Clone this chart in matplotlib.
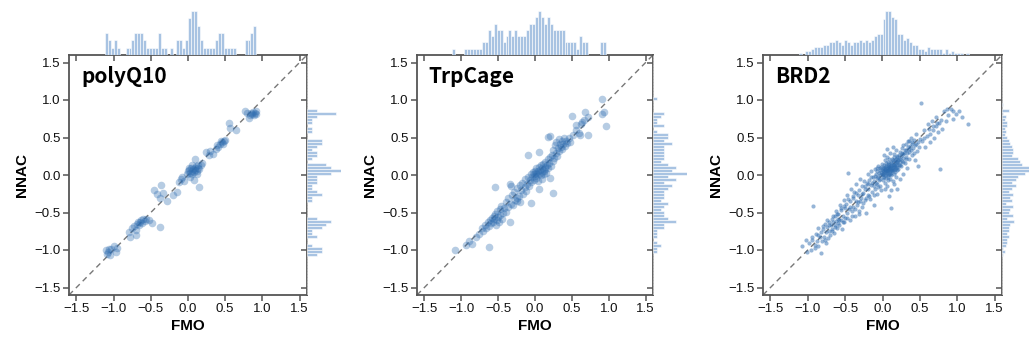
import matplotlib
matplotlib.use("Agg")
import matplotlib.pyplot as plt
import numpy as np

plt.rcParams['font.family'] = ['Liberation Sans', 'DejaVu Sans']

# (FMO, NNAC) pairs
polyq_pts = [
    (-1.10, -1.00), (-1.09, -1.05), (-1.08, -1.02), (-1.06, -0.99), (-1.05, -1.06), (-1.03, -0.98),
    (-0.99, -0.95), (-0.97, -1.03), (-0.95, -0.97),
    (-0.80, -0.76), (-0.78, -0.82), (-0.75, -0.71), (-0.72, -0.68), (-0.70, -0.73), (-0.69, -0.65),
    (-0.67, -0.63), (-0.66, -0.67), (-0.65, -0.62), (-0.63, -0.60), (-0.62, -0.64), (-0.60, -0.59),
    (-0.58, -0.61), (-0.56, -0.58), (-0.52, -0.60), (-0.49, -0.64), (-0.37, -0.69), (-0.70, -0.80),
    (-0.46, -0.20), (-0.42, -0.25), (-0.36, -0.13), (-0.37, -0.31), (-0.33, -0.24), (-0.28, -0.35),
    (-0.20, -0.27), (-0.15, -0.22), (-0.12, -0.09), (-0.10, -0.05), (-0.08, -0.03), (-0.06, -0.08),
    (-0.02, 0.02), (0.00, 0.05), (0.02, 0.07), (0.03, 0.03), (0.04, 0.10), (0.05, 0.06), (0.06, 0.01),
    (0.07, 0.08), (0.08, 0.04), (0.09, 0.10), (0.10, 0.07), (0.11, 0.12), (0.12, 0.05), (0.13, 0.09),
    (0.14, 0.13), (0.15, 0.08), (0.17, 0.14), (0.19, 0.16), (0.08, -0.06), (0.03, -0.02), (0.15, -0.16),
    (0.10, 0.22), (0.05, 0.13), (0.01, 0.09), (0.12, 0.02),
    (0.24, 0.31), (0.28, 0.27), (0.33, 0.28), (0.30, 0.32),
    (0.37, 0.35), (0.39, 0.40), (0.41, 0.38), (0.43, 0.42), (0.44, 0.45), (0.46, 0.44), (0.47, 0.41),
    (0.48, 0.46), (0.50, 0.47),
    (0.55, 0.69), (0.57, 0.63), (0.64, 0.60),
    (0.77, 0.86), (0.79, 0.83), (0.82, 0.76), (0.84, 0.80), (0.85, 0.83), (0.86, 0.81), (0.88, 0.84),
    (0.89, 0.80), (0.90, 0.83), (0.91, 0.82), (0.92, 0.85),
]

trp_pts = [
    (-1.08, -1.00), (-0.93, -0.93), (-0.90, -0.88), (-0.85, -0.92), (-0.80, -0.82), (-0.76, -0.78),
    (-0.72, -0.70), (-0.70, -0.74), (-0.68, -0.66), (-0.66, -0.71), (-0.64, -0.62), (-0.63, -0.68),
    (-0.62, -0.96), (-0.61, -0.60), (-0.60, -0.64), (-0.58, -0.57), (-0.57, -0.62), (-0.56, -0.55),
    (-0.55, -0.59), (-0.54, -0.52), (-0.54, -0.16), (-0.53, -0.66), (-0.52, -0.60), (-0.51, -0.48),
    (-0.50, -0.56), (-0.49, -0.62), (-0.48, -0.45), (-0.47, -0.53), (-0.46, -0.41), (-0.45, -0.58),
    (-0.44, -0.50), (-0.42, -0.44), (-0.40, -0.36), (-0.39, -0.49), (-0.37, -0.42), (-0.36, -0.31),
    (-0.34, -0.63), (-0.34, -0.12), (-0.33, -0.38), (-0.32, -0.15), (-0.31, -0.26), (-0.30, -0.40),
    (-0.28, -0.22), (-0.27, -0.33), (-0.25, -0.17), (-0.25, -0.35), (-0.24, -0.30), (-0.22, -0.28),
    (-0.21, -0.13), (-0.20, -0.36), (-0.19, -0.20), (-0.17, -0.10), (-0.16, -0.25), (-0.14, -0.16),
    (-0.13, -0.05), (-0.12, -0.21), (-0.11, -0.12), (-0.10, 0.27), (-0.09, -0.02), (-0.08, -0.14),
    (-0.07, -0.07), (-0.06, 0.01), (-0.05, -0.37), (-0.05, -0.09), (-0.04, -0.03), (-0.03, 0.04),
    (-0.02, -0.06), (-0.01, 0.02), (0.00, -0.01), (0.00, 0.06), (0.01, 0.03), (0.02, -0.04),
    (0.02, 0.09), (0.03, 0.01), (0.04, 0.05), (0.04, -0.08), (0.05, 0.11), (0.06, -0.19), (0.06, 0.02),
    (0.06, 0.31), (0.07, 0.07), (0.08, 0.00), (0.08, 0.13), (0.09, 0.04), (0.10, 0.09), (0.10, -0.05),
    (0.11, 0.15), (0.12, 0.06), (0.12, 0.02), (0.13, 0.11), (0.14, 0.18), (0.14, 0.08), (0.15, 0.03),
    (0.16, 0.13), (0.17, 0.51), (0.17, 0.21), (0.18, 0.10), (0.19, 0.16), (0.20, -0.04), (0.20, 0.24),
    (0.21, 0.52), (0.22, 0.12), (0.23, 0.27), (0.24, 0.19), (0.24, -0.24), (0.25, 0.33), (0.26, 0.23),
    (0.27, 0.40), (0.28, 0.30), (0.29, 0.44), (0.30, 0.26), (0.31, 0.36), (0.32, 0.48), (0.33, 0.32),
    (0.34, 0.41), (0.35, 0.38), (0.36, 0.45), (0.37, 0.35), (0.38, 0.42), (0.39, 0.50), (0.40, 0.39),
    (0.42, 0.46), (0.44, 0.43), (0.46, 0.49), (0.48, 0.44), (0.50, 0.79), (0.52, 0.53), (0.55, 0.60),
    (0.56, 0.67), (0.59, 0.56), (0.61, 0.54), (0.62, 0.68), (0.64, 0.71), (0.66, 0.74), (0.68, 0.84),
    (0.72, 0.54), (0.72, 0.78), (0.91, 1.02), (0.91, 0.82), (0.94, 0.84), (0.96, 0.66),
]

brd2_pts = [
    (-1.08, -0.95), (-1.03, -0.86), (-1.01, -1.02),
    (-0.98, -0.90), (-0.96, -1.00), (-0.94, -0.82), (-0.93, -0.41), (-0.91, -0.93),
    (-0.89, -0.78), (-0.88, -0.88), (-0.87, -0.95), (-0.86, -0.70), (-0.84, -0.83), (-0.83, -1.04),
    (-0.82, -0.76), (-0.81, -0.88),
    (-0.79, -0.72), (-0.78, -0.82), (-0.77, -0.65), (-0.76, -0.90), (-0.75, -0.76), (-0.74, -0.69),
    (-0.73, -0.84), (-0.72, -0.62), (-0.71, -0.74), (-0.70, -0.80),
    (-0.69, -0.66), (-0.68, -0.58), (-0.67, -0.72), (-0.66, -0.63), (-0.65, -0.77), (-0.64, -0.55),
    (-0.63, -0.67), (-0.62, -0.61), (-0.62, -0.48), (-0.61, -0.70), (-0.60, -0.64), (-0.60, -0.58),
    (-0.59, -0.52), (-0.58, -0.66), (-0.57, -0.40), (-0.56, -0.60), (-0.55, -0.47), (-0.54, -0.72),
    (-0.53, -0.55), (-0.52, -0.33), (-0.51, -0.62), (-0.50, -0.44), (-0.50, -0.57),
    (-0.49, -0.38), (-0.48, -0.50), (-0.47, -0.26), (-0.46, 0.03), (-0.45, -0.45), (-0.44, -0.60),
    (-0.43, -0.35), (-0.42, -0.18), (-0.41, -0.48), (-0.40, -0.30),
    (-0.39, -0.42), (-0.38, -0.22), (-0.37, -0.55), (-0.36, -0.34), (-0.35, -0.12), (-0.34, -0.40),
    (-0.33, -0.27), (-0.32, -0.48), (-0.31, -0.20), (-0.30, -0.35), (-0.30, -0.05),
    (-0.29, -0.30), (-0.28, -0.15), (-0.27, -0.42), (-0.26, -0.24), (-0.25, -0.08), (-0.24, -0.33),
    (-0.23, -0.18), (-0.22, -0.50), (-0.21, -0.11), (-0.20, -0.26), (-0.20, 0.02),
    (-0.19, -0.19), (-0.18, -0.06), (-0.17, -0.32), (-0.16, -0.13), (-0.15, 0.05), (-0.14, -0.22),
    (-0.13, -0.03), (-0.12, -0.15), (-0.12, -0.40), (-0.11, -0.08), (-0.10, 0.08), (-0.10, -0.18),
    (-0.09, -0.10), (-0.09, 0.02), (-0.08, -0.04), (-0.08, -0.25), (-0.07, 0.06), (-0.07, -0.12),
    (-0.06, -0.02), (-0.06, 0.12), (-0.05, -0.07), (-0.05, 0.03), (-0.04, -0.15), (-0.04, 0.00),
    (-0.03, 0.09), (-0.03, -0.05), (-0.02, 0.04), (-0.02, -0.20), (-0.01, 0.01), (-0.01, 0.15),
    (0.00, -0.03), (0.00, 0.07),
    (0.01, 0.02), (0.01, 0.10), (0.01, -0.06), (0.02, 0.05), (0.02, 0.14), (0.02, -0.02), (0.03, 0.08),
    (0.03, 0.00), (0.03, 0.20), (0.04, 0.04), (0.04, -0.10), (0.04, 0.11), (0.05, 0.06), (0.05, 0.01),
    (0.05, 0.16), (0.05, -0.04), (0.06, 0.09), (0.06, 0.03), (0.06, 0.24), (0.06, -0.15), (0.07, 0.07),
    (0.07, 0.12), (0.07, 0.00), (0.07, -0.07), (0.08, 0.05), (0.08, 0.18), (0.08, 0.10), (0.08, -0.02),
    (0.09, 0.08), (0.09, 0.02), (0.09, 0.14), (0.09, -0.28), (0.10, 0.06), (0.10, 0.11), (0.10, 0.30),
    (0.10, -0.05), (0.03, -0.18), (0.06, 0.35), (0.02, 0.27), (0.09, 0.21),
    (0.11, 0.09), (0.11, 0.03), (0.11, 0.16), (0.12, 0.07), (0.12, -0.44), (0.12, 0.12), (0.12, 0.00),
    (0.13, 0.10), (0.13, 0.22), (0.13, 0.05), (0.14, 0.13), (0.14, -0.08), (0.14, 0.08), (0.15, 0.11),
    (0.15, 0.18), (0.15, 0.02), (0.15, 0.28), (0.16, 0.14), (0.16, 0.07), (0.16, -0.12), (0.17, 0.12),
    (0.17, 0.20), (0.17, 0.04), (0.18, 0.16), (0.18, 0.10), (0.18, 0.33), (0.18, -0.03), (0.19, 0.13),
    (0.19, 0.24), (0.19, 0.07), (0.20, 0.17), (0.20, 0.11), (0.20, -0.18), (0.14, 0.38), (0.11, -0.20),
    (0.21, 0.20), (0.21, 0.08), (0.22, 0.27), (0.22, 0.14), (0.23, 0.18), (0.23, -0.05), (0.24, 0.31),
    (0.24, 0.22), (0.25, 0.12), (0.25, 0.25), (0.26, 0.36), (0.26, 0.19), (0.27, 0.28), (0.27, 0.02),
    (0.28, 0.23), (0.28, 0.40), (0.29, 0.30), (0.30, 0.16),
    (0.31, 0.34), (0.31, 0.24), (0.32, 0.42), (0.33, 0.29), (0.33, 0.10), (0.34, 0.37), (0.35, 0.31),
    (0.35, 0.46), (0.36, 0.22), (0.37, 0.39), (0.38, 0.33), (0.38, 0.50), (0.39, 0.27), (0.40, 0.42),
    (0.41, 0.36), (0.42, 0.47), (0.43, 0.20), (0.44, 0.40), (0.45, 0.55), (0.46, 0.32), (0.47, 0.44),
    (0.48, 0.12), (0.49, 0.38),
    (0.52, 0.96), (0.53, 0.46), (0.55, 0.60), (0.57, 0.38), (0.59, 0.52),
    (0.61, 0.68), (0.63, 0.55), (0.64, 0.44), (0.66, 0.72), (0.68, 0.60), (0.69, 0.50),
    (0.71, 0.65), (0.72, 0.78), (0.74, 0.58), (0.76, 0.70), (0.77, 0.08), (0.79, 0.62),
    (0.82, 0.85), (0.85, 0.72), (0.88, 0.80),
    (0.92, 0.88), (0.95, 0.75), (0.98, 0.82),
    (1.03, 0.86), (1.07, 0.78), (1.15, 0.68),
    (-0.95, -0.86), (-0.90, -0.97), (-0.86, -0.80), (-0.80, -0.68), (-0.77, -0.86), (-0.74, -0.60),
    (-0.71, -0.66), (-0.68, -0.75), (-0.66, -0.54), (-0.64, -0.69), (-0.61, -0.52), (-0.58, -0.60),
    (-0.56, -0.44), (-0.53, -0.63), (-0.51, -0.41), (-0.48, -0.57), (-0.46, -0.32), (-0.44, -0.42),
    (-0.41, -0.55), (-0.39, -0.28), (-0.37, -0.45), (-0.35, -0.24), (-0.33, -0.36), (-0.31, -0.52),
    (-0.28, -0.25), (-0.26, -0.37), (-0.24, -0.14), (-0.22, -0.30), (-0.20, -0.12), (-0.18, -0.28),
    (-0.16, -0.02), (-0.14, -0.10), (-0.12, -0.27), (-0.10, -0.01), (-0.08, 0.10), (-0.06, -0.16),
    (-0.04, 0.07), (-0.02, 0.11), (0.00, 0.02), (0.01, 0.05), (0.02, 0.09), (0.04, 0.07), (0.05, 0.12),
    (0.06, 0.05), (0.07, 0.15), (0.08, 0.07), (0.09, 0.11), (0.10, 0.02), (0.11, 0.13), (0.12, 0.17),
    (0.13, 0.07), (0.14, 0.20), (0.15, 0.14), (0.16, 0.24), (0.17, 0.08), (0.18, 0.21), (0.19, 0.18),
    (0.20, 0.26), (0.22, 0.22), (0.24, 0.14), (0.26, 0.30), (0.28, 0.17), (0.30, 0.34), (0.32, 0.22),
    (0.34, 0.45), (0.36, 0.35), (0.39, 0.44), (0.42, 0.30), (0.45, 0.42), (0.50, 0.48), (0.56, 0.50),
    (0.62, 0.62), (0.67, 0.66), (0.73, 0.70), (0.78, 0.74), (0.86, 0.88), (0.94, 0.86),
]

systems = ["polyQ10", "TrpCage", "BRD2"]
tick_vals = [-1.5, -1.0, -0.5, 0.0, 0.5, 1.0, 1.5]

W, H = 1029, 345
fig = plt.figure(figsize=(W / 100, H / 100), dpi=100)

# left edge / right edge of each main square, pixels
panel_x = [(69, 307), (417, 653), (763, 1002)]
top_px, bot_px = 55, 295
point_size = [30, 30, 9]
point_alpha = [0.35, 0.35, 0.5]
dot_color = '#2f6db0'
hist_color = '#a8c3e2'
spine_c = '#555555'
lim = (-1.6, 1.6)
bins = np.arange(-1.6, 1.62, 0.04)

for i, pts in enumerate([polyq_pts, trp_pts, brd2_pts]):
    fmo = np.array([p[0] for p in pts])
    nnac = np.array([p[1] for p in pts])
    x0, x1 = panel_x[i]
    ax = fig.add_axes([x0 / W, (H - bot_px) / H, (x1 - x0) / W, (bot_px - top_px) / H])
    axt = fig.add_axes([x0 / W, (H - top_px) / H, (x1 - x0) / W, 44 / H])
    axr = fig.add_axes([x1 / W, (H - bot_px) / H, 34 / W, (bot_px - top_px) / H])

    ax.scatter(fmo, nnac, s=point_size[i], color=dot_color, alpha=point_alpha[i],
               linewidths=0, zorder=3)
    ax.axline((0, 0), slope=1, color='#777777', ls=(0, (4, 3)), lw=1.0, zorder=2)
    ax.set_xlim(lim)
    ax.set_ylim(lim)
    ax.set_xticks(tick_vals)
    ax.set_yticks(tick_vals)
    ax.tick_params(axis='both', direction='out', length=4, width=1.1,
                   color=spine_c, labelsize=9.5, labelcolor='#111111', pad=2)
    for sp in ax.spines.values():
        sp.set_color(spine_c)
        sp.set_linewidth(1.3)

    # inward ticks on top and right sides
    sec_x = ax.secondary_xaxis('top')
    sec_x.set_xticks(tick_vals)
    sec_x.tick_params(direction='in', length=4, width=1.1, color=spine_c, labeltop=False)
    sec_x.spines['top'].set_visible(False)
    sec_y = ax.secondary_yaxis('right')
    sec_y.set_yticks(tick_vals)
    sec_y.tick_params(direction='in', length=4, width=1.1, color=spine_c, labelright=False)
    sec_y.spines['right'].set_visible(False)

    ax.set_xlabel("FMO", fontsize=11, fontweight='bold', labelpad=3,
                  family=['Liberation Sans Narrow', 'Liberation Sans'])
    ax.set_ylabel("NNAC", fontsize=11, fontweight='bold', labelpad=4,
                  family=['Liberation Sans Narrow', 'Liberation Sans'])
    ax.text(0.05, 0.955, systems[i], transform=ax.transAxes, ha='left', va='top',
            fontsize=15, fontweight='bold', family=['Noto Sans CJK JP', 'DejaVu Sans'])

    axt.hist(fmo, bins=bins, color=hist_color, edgecolor='white', linewidth=0.4)
    axt.set_xlim(lim)
    axt.margins(y=0)
    axt.axis('off')

    axr.hist(nnac, bins=bins, orientation='horizontal', color=hist_color,
             edgecolor='white', linewidth=0.4)
    axr.set_ylim(lim)
    axr.margins(x=0)
    axr.axis('off')

fig.savefig("out.png", dpi=100)
